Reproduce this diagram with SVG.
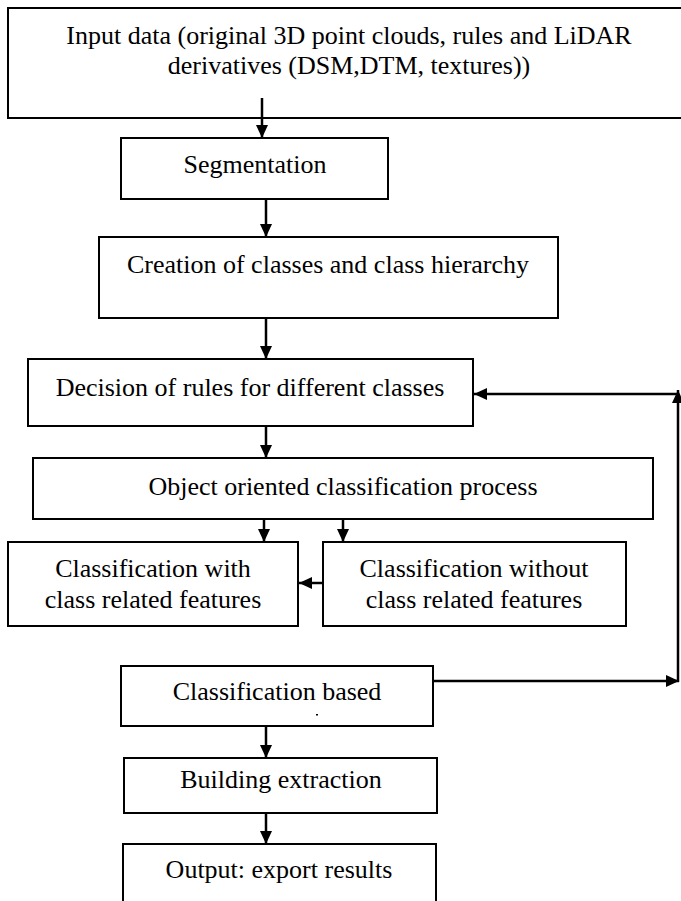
<svg xmlns="http://www.w3.org/2000/svg" width="681" height="901" viewBox="0 0 681 901">
<style>
.box{fill:#fff;stroke:#000;stroke-width:2}
.t{font-family:"Liberation Serif","Times New Roman",serif;font-size:26px;fill:#000;text-anchor:middle}
.c{stroke:#000;stroke-width:2.5;fill:none}
</style>
<defs>
<marker id="ah" markerUnits="userSpaceOnUse" markerWidth="14" markerHeight="12" refX="13" refY="6" orient="auto">
<path d="M0,0 L13,6 L0,12 z" fill="#000"/>
</marker>
</defs>
<rect width="681" height="901" fill="#fff"/>
<g id="input">
<rect class="box" x="8" y="8" width="684" height="110"/>
<text class="t" x="349" y="44">Input data (original 3D point clouds, rules and LiDAR</text>
<text class="t" x="349" y="74">derivatives (DSM,DTM, textures))</text>
</g>
<g id="segmentation">
<rect class="box" x="121" y="138" width="267" height="61"/>
<text class="t" x="255" y="173">Segmentation</text>
</g>
<g id="creation">
<rect class="box" x="99" y="237" width="459" height="81"/>
<text class="t" x="328" y="273">Creation of classes and class hierarchy</text>
</g>
<g id="decision">
<rect class="box" x="28" y="359" width="445" height="67"/>
<text class="t" x="250" y="396">Decision of rules for different classes</text>
</g>
<g id="object">
<rect class="box" x="33" y="458" width="620" height="61"/>
<text class="t" x="343" y="495">Object oriented classification process</text>
</g>
<g id="with">
<rect class="box" x="8" y="542" width="290" height="84"/>
<text class="t" x="153" y="577">Classification with</text>
<text class="t" x="153" y="608">class related features</text>
</g>
<g id="without">
<rect class="box" x="323" y="542" width="303" height="84"/>
<text class="t" x="474" y="577">Classification without</text>
<text class="t" x="474" y="608">class related features</text>
</g>
<g id="based">
<rect class="box" x="121" y="666" width="312" height="60"/>
<text class="t" x="277" y="700">Classification based</text>
<rect x="316" y="714" width="2" height="1.5" fill="#000"/>
</g>
<g id="building">
<rect class="box" x="124" y="758" width="313" height="55"/>
<text class="t" x="281" y="788">Building extraction</text>
</g>
<g id="output">
<rect class="box" x="123" y="844" width="313" height="70"/>
<text class="t" x="279" y="878">Output: export results</text>
</g>
<g id="connectors">
<line class="c" x1="262" y1="98" x2="262" y2="138" marker-end="url(#ah)"/>
<line class="c" x1="266" y1="199" x2="266" y2="237" marker-end="url(#ah)"/>
<line class="c" x1="266" y1="318" x2="266" y2="359" marker-end="url(#ah)"/>
<line class="c" x1="266" y1="426" x2="266" y2="458" marker-end="url(#ah)"/>
<line class="c" x1="264" y1="519" x2="264" y2="542" marker-end="url(#ah)"/>
<line class="c" x1="343" y1="519" x2="343" y2="542" marker-end="url(#ah)"/>
<line class="c" x1="323" y1="583" x2="299" y2="583" marker-end="url(#ah)"/>
<line class="c" x1="266" y1="726" x2="266" y2="758" marker-end="url(#ah)"/>
<line class="c" x1="266" y1="813" x2="266" y2="844" marker-end="url(#ah)"/>
<line class="c" x1="433" y1="681" x2="679" y2="681" marker-end="url(#ah)"/>
<line class="c" x1="678" y1="682" x2="678" y2="390" marker-end="url(#ah)"/>
<line class="c" x1="678" y1="394" x2="474" y2="394" marker-end="url(#ah)"/>
</g>
</svg>
